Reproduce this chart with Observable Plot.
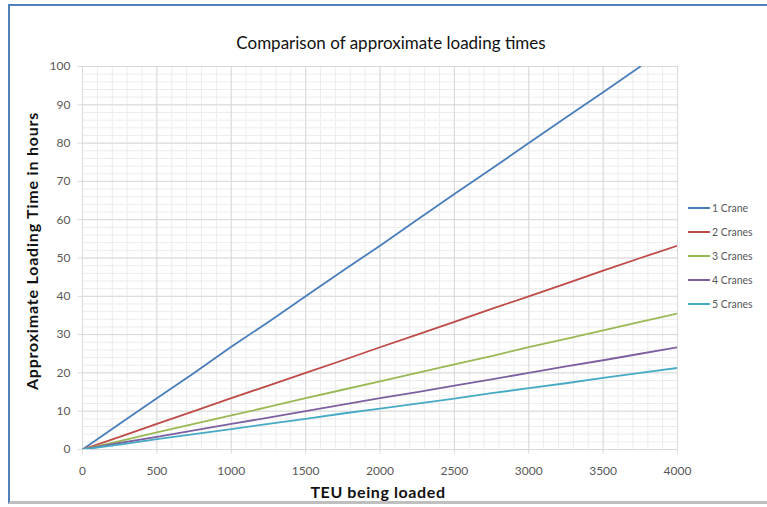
<!DOCTYPE html>
<html><head><meta charset="utf-8">
<script src="https://cdn.jsdelivr.net/npm/d3@7"></script>
<script src="https://cdn.jsdelivr.net/npm/@observablehq/plot@0.6"></script>
<style>
body{margin:0;background:#fff;}
#wrap{position:relative;width:767px;height:507px;overflow:hidden;font-family:Lato,"Open Sans",sans-serif;}
#frame{position:absolute;left:8px;top:4px;width:770px;height:500px;border-left:2px solid #4f81bd;border-top:2px solid #4f81bd;border-bottom:3px solid #bfbfbf;box-sizing:border-box;}
#title{position:absolute;left:0;width:782px;top:32px;text-align:center;font-size:17px;color:#111;}
#chart{position:absolute;left:0;top:0;}
#legend{position:absolute;left:688px;top:196px;font-size:10.5px;color:#595959;}
.row{height:24px;display:flex;align-items:center;}
.sw{width:22px;height:2px;margin-right:2px;}
#ylab{position:absolute;left:31px;top:251px;transform:translate(-50%,-50%) rotate(-90deg);white-space:nowrap;font-weight:bold;font-size:16px;letter-spacing:0.8px;color:#111;}
#xlab{position:absolute;left:378px;top:482px;transform:translateX(-50%);font-weight:bold;font-size:16px;letter-spacing:0.6px;color:#111;}
</style></head>
<body><div id="wrap"><div id="frame"></div><div id="chart"></div><div id="title">Comparison of approximate loading times</div><div id="ylab">Approximate Loading Time in hours</div><div id="xlab">TEU being loaded</div><div id="legend"></div></div>
<script>
const teu = [0,250,500,750,1000,1250,1500,1750,2000,2250,2500,2750,3000,3250,3500,3750,4000];
const seriesNames = ["1 Crane","2 Cranes","3 Cranes","4 Cranes","5 Cranes"];
const colors = ["#4a7ebb","#be4b48","#98b954","#7d60a0","#46aac5"];
const crane1 = [0,6.7,13.4,20.0,26.8,33.3,40.0,46.7,53.2,60.0,66.7,73.3,80.0,86.7,93.3,100];
const crane2 = [0,3.3,6.7,10.0,13.4,16.7,20.0,23.3,26.7,30.0,33.3,36.7,40.0,43.3,46.7,50.0,53.2];
const crane3 = [0,2.2,4.5,6.7,8.9,11.1,13.4,15.6,17.8,20.0,22.2,24.4,26.7,28.9,31.1,33.3,35.5];
const crane4 = [0,1.7,3.3,5.0,6.7,8.3,10.0,11.7,13.4,15.0,16.7,18.3,20.0,21.7,23.3,25.0,26.7];
const crane5 = [0,1.3,2.7,4.0,5.3,6.7,8.0,9.4,10.7,12.0,13.3,14.7,16.0,17.3,18.7,20.0,21.3];
const xTicks = [0,500,1000,1500,2000,2500,3000,3500,4000];
const yTicks = [0,10,20,30,40,50,60,70,80,90,100];

const all = [crane1,crane2,crane3,crane4,crane5];
const rows = [];
all.forEach((arr,i)=>arr.forEach((v,j)=>rows.push({teu:teu[j],h:v,s:seriesNames[i]})));

const minorX = d3.range(0,4001,100);
const minorY = d3.range(0,100.1,2);

const plot = Plot.plot({
  width:767,height:507,
  marginLeft:82,marginRight:90,marginTop:66,marginBottom:58,
  style:{fontFamily:"Lato, 'Open Sans', sans-serif",fontSize:"12px",color:"#595959",background:"transparent"},
  x:{domain:[0,4000],ticks:xTicks,tickFormat:d=>String(d),tickSize:0,tickPadding:17,label:null},
  y:{domain:[0,100],ticks:yTicks,tickFormat:d=>String(d),tickSize:0,tickPadding:12,label:null},
  color:{domain:seriesNames,range:colors},
  marks:[
    Plot.ruleX(minorX,{stroke:"#ececec",strokeWidth:1}),
    Plot.ruleY(minorY,{stroke:"#ececec",strokeWidth:1}),
    Plot.ruleX(xTicks,{stroke:"#d9d9d9",strokeWidth:1,y1:-1.2,y2:100}),
    Plot.ruleY(yTicks,{stroke:"#d9d9d9",strokeWidth:1,x1:-30,x2:4000}),
    Plot.line(rows,{x:"teu",y:"h",stroke:"s",strokeWidth:1.8,clip:true})
  ]
});
document.getElementById("chart").appendChild(plot);

const leg = document.getElementById("legend");
seriesNames.forEach((n,i)=>{
  const r=document.createElement("div");r.className="row";
  r.innerHTML=`<div class="sw" style="background:${colors[i]}"></div><span>${n}</span>`;
  leg.appendChild(r);
});
</script></body></html>
